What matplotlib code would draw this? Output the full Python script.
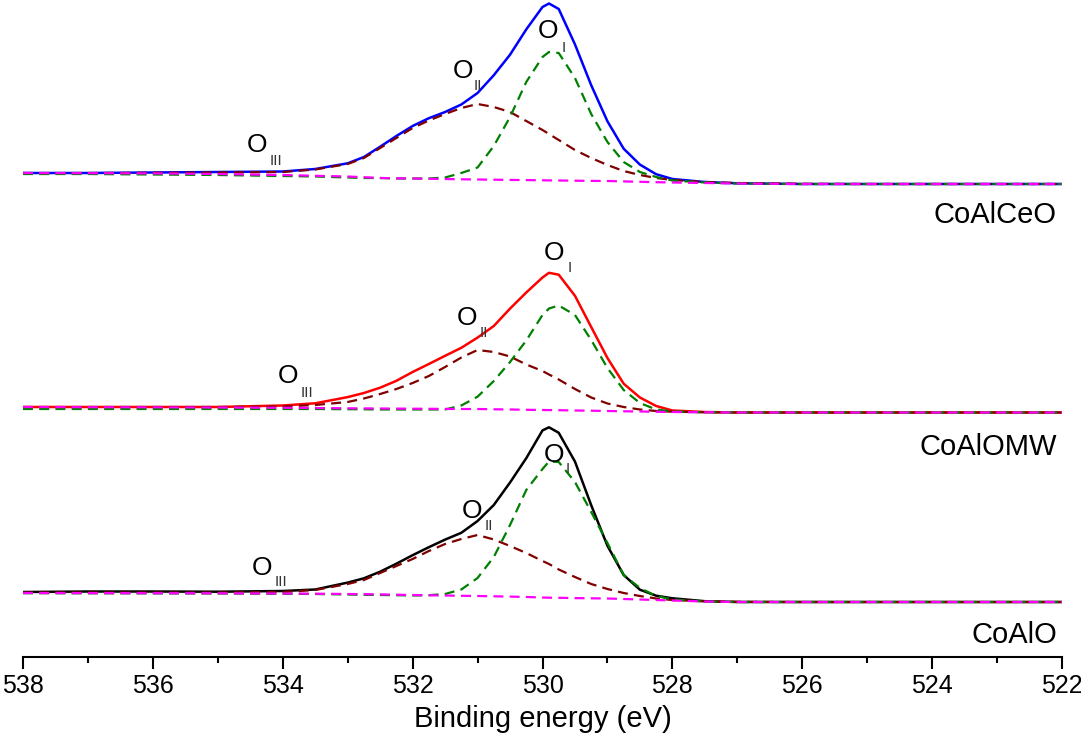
import numpy as np
import matplotlib
matplotlib.use("Agg")
import matplotlib.pyplot as plt
from matplotlib.ticker import MultipleLocator

plt.rcParams['font.family'] = ['Liberation Sans', 'DejaVu Sans']

# binding energy grid (eV) shared by all curves
energy = [538, 537, 536, 535, 534, 533.5, 533, 532.75, 532.5, 532.25, 532, 531.75,
          531.5, 531.25, 531, 530.75, 530.5, 530.25, 530, 529.9, 529.75, 529.5,
          529.25, 529, 528.75, 528.5, 528.25, 528, 527.5, 527, 526, 525, 524, 523, 522]

samples = ["CoAlCeO", "CoAlOMW", "CoAlO"]
offsets = [47.3, 24.45, 5.5]
total_colors = ["#0000ff", "#ff0000", "#000000"]

# CoAlCeO
ceo_total = [1.10, 1.10, 1.15, 1.20, 1.25, 1.50, 2.07, 2.70, 3.73, 4.80, 5.80, 6.58,
             7.20, 7.95, 9.10, 10.88, 12.93, 15.46, 17.70, 18.05, 17.50, 13.96,
             9.88, 6.27, 3.53, 1.94, 0.98, 0.50, 0.20, 0.07, 0, 0, 0, 0, 0]
ceo_oi = [1.0, 1.0, 0.95, 0.9, 0.8, 0.75, 0.65, 0.6, 0.6, 0.55, 0.55, 0.55,
          0.65, 1.1, 1.65, 3.8, 6.7, 10.2, 12.7, 13.2, 13.1, 10.6,
          7.0, 4.2, 2.2, 1.2, 0.7, 0.35, 0.15, 0.05, 0, 0, 0, 0, 0]
ceo_oii = [1.10, 1.10, 1.12, 1.15, 1.2, 1.45, 2.0, 2.6, 3.6, 4.6, 5.6, 6.35,
           7.0, 7.6, 8.0, 7.7, 7.2, 6.3, 5.4, 5.0, 4.4, 3.4,
           2.6, 1.9, 1.3, 0.9, 0.6, 0.4, 0.2, 0.1, 0.02, 0, 0, 0, 0]
ceo_base = [1.10, 1.08, 1.06, 1.0, 0.9, 0.82, 0.75, 0.68, 0.6, 0.57, 0.55, 0.52,
            0.5, 0.47, 0.45, 0.43, 0.41, 0.39, 0.37, 0.36, 0.35, 0.33,
            0.31, 0.3, 0.26, 0.22, 0.18, 0.15, 0.1, 0.05, 0, 0, 0, 0, 0]

# CoAlOMW
mw_total = [0.55, 0.55, 0.55, 0.55, 0.70, 0.92, 1.54, 1.95, 2.48, 3.17, 4.05, 4.85,
            5.67, 6.47, 7.49, 8.65, 10.39, 12.0, 13.5, 13.97, 13.78, 11.67,
            8.55, 5.45, 2.88, 1.5, 0.65, 0.2, 0.05, 0, 0, 0, 0, 0, 0]
mw_oi = [0.35, 0.35, 0.35, 0.35, 0.35, 0.35, 0.33, 0.32, 0.3, 0.3, 0.3, 0.3,
         0.3, 0.7, 1.58, 3.15, 5.05, 7.2, 9.75, 10.4, 10.7, 9.75,
         7.25, 4.45, 2.25, 0.95, 0.3, 0.1, 0.02, 0, 0, 0, 0, 0, 0]
mw_oii = [0.55, 0.55, 0.55, 0.55, 0.6, 0.75, 1.05, 1.4, 1.85, 2.35, 2.95, 3.65,
          4.55, 5.5, 6.25, 6.05, 5.6, 4.8, 4.15, 3.8, 3.3, 2.35,
          1.5, 0.9, 0.55, 0.3, 0.15, 0.08, 0.02, 0, 0, 0, 0, 0, 0]
mw_base = [0.55, 0.53, 0.52, 0.5, 0.47, 0.45, 0.42, 0.41, 0.4, 0.39, 0.38, 0.37,
           0.36, 0.35, 0.35, 0.32, 0.3, 0.27, 0.25, 0.24, 0.23, 0.2,
           0.18, 0.15, 0.12, 0.1, 0.07, 0.05, 0.02, 0, 0, 0, 0, 0, 0]

# CoAlO
alo_total = [1.0, 1.05, 1.05, 1.03, 1.1, 1.25, 1.94, 2.37, 3.03, 3.83, 4.68, 5.48,
             6.24, 6.92, 8.1, 9.7, 11.95, 14.38, 17.16, 17.47, 16.92, 14.04,
             9.68, 5.62, 2.7, 1.23, 0.63, 0.37, 0.08, 0, 0, 0, 0, 0, 0]
alo_oi = [0.88, 0.87, 0.86, 0.85, 0.82, 0.8, 0.75, 0.72, 0.7, 0.68, 0.65, 0.68,
          0.8, 1.25, 2.4, 4.5, 7.7, 11.2, 13.3, 14.05, 14.0, 12.0,
          9.0, 5.9, 2.7, 1.4, 0.6, 0.25, 0.05, 0, 0, 0, 0, 0, 0]
alo_oii = [0.95, 0.95, 0.95, 0.95, 1.0, 1.2, 1.8, 2.2, 2.9, 3.6, 4.3, 5.1,
           5.8, 6.3, 6.7, 6.25, 5.6, 4.9, 4.1, 3.8, 3.25, 2.5,
           1.8, 1.3, 0.9, 0.6, 0.35, 0.2, 0.07, 0.02, 0, 0, 0, 0, 0]
alo_base = [0.9, 0.89, 0.88, 0.87, 0.85, 0.83, 0.8, 0.78, 0.76, 0.73, 0.7, 0.67,
            0.65, 0.62, 0.6, 0.57, 0.54, 0.5, 0.45, 0.43, 0.42, 0.39,
            0.37, 0.35, 0.3, 0.25, 0.2, 0.15, 0.05, 0, 0, 0, 0, 0, 0]

spectra = [
    (ceo_total, ceo_oi, ceo_oii, ceo_base),
    (mw_total, mw_oi, mw_oii, mw_base),
    (alo_total, alo_oi, alo_oii, alo_base),
]

# peak labels: (energy, y) of the "O", then of the subscript
peak_labels = [
    [("I", 529.91, 61.9, 529.68, 60.5), ("II", 531.23, 57.9, 530.99, 56.7), ("III", 534.40, 50.5, 534.10, 49.2)],
    [("I", 529.83, 39.7, 529.58, 38.5), ("II", 531.16, 33.2, 530.90, 32.0), ("III", 533.92, 27.4, 533.62, 26.0)],
    [("I", 529.82, 19.5, 529.61, 18.4), ("II", 531.09, 13.9, 530.83, 12.7), ("III", 534.32, 8.2, 534.02, 7.1)],
]
name_y = [43.4, 20.2, 1.4]

fig = plt.figure(figsize=(10.81, 7.43), dpi=100)
ax = fig.add_axes([23 / 1081, (743 - 657) / 743, 1039 / 1081, 657 / 743])

x = np.array(energy)
dash = (0, (4.5, 2.8))
for i in range(3):
    total, oi, oii, base = [np.array(s) + offsets[i] for s in spectra[i]]
    ax.plot(x, total, color=total_colors[i], lw=1.8, zorder=2, solid_joinstyle="round")
    ax.plot(x, oii, color="#800000", lw=1.6, ls=dash, zorder=3)
    ax.plot(x, oi, color="#008000", lw=1.6, ls=dash, zorder=4)
    ax.plot(x, base, color="#ff00ff", lw=1.6, ls=dash, zorder=5)

    for sub, ex, ey, sx, sy in peak_labels[i]:
        ax.text(ex, ey, "O", fontsize=19, ha="center", va="baseline", zorder=6)
        ax.text(sx, sy, sub, fontsize=11, ha="center", va="baseline", color="#333333", zorder=6)

    ax.text(522.08, name_y[i], samples[i], fontsize=21, ha="right", va="baseline")

ax.set_xlim(538, 522)
ax.set_ylim(0, 65.7)
ax.xaxis.set_major_locator(MultipleLocator(2))
ax.xaxis.set_minor_locator(MultipleLocator(1))
ax.tick_params(axis="x", which="major", direction="out", length=8.5, width=1.5, labelsize=18, pad=4)
ax.tick_params(axis="x", which="minor", direction="out", length=4.5, width=1.5)
ax.set_yticks([])
for side in ["left", "right", "top"]:
    ax.spines[side].set_visible(False)
ax.spines["bottom"].set_linewidth(1.5)
ax.set_xlabel("Binding energy (eV)", fontsize=21, labelpad=5)

fig.savefig("out.png", dpi=100)
